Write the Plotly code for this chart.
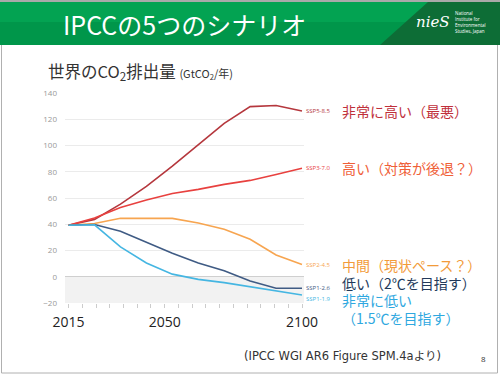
import plotly.graph_objects as go

# ---- data ----
years = ["2015", "2020", "2030", "2040", "2050", "2060", "2070", "2080", "2090", "2100"]
ssp585 = [39.2, 43.7, 55.3, 68.9, 84.2, 100.7, 116.8, 129.6, 130.5, 126.3]
ssp370 = [39.2, 44.8, 52.8, 58.5, 63.5, 66.6, 70.4, 73.4, 77.9, 82.7]
ssp245 = [39.2, 40.6, 44.5, 44.5, 44.5, 41.0, 36.2, 28.5, 16.6, 9.3]
ssp126 = [39.2, 39.8, 34.7, 26.5, 17.9, 10.5, 4.5, -3.3, -8.8, -8.8]
ssp119 = [39.2, 39.6, 22.8, 10.5, 2.0, -2.0, -4.5, -7.5, -11.0, -13.9]
series_names = ["SSP5-8.5", "SSP3-7.0", "SSP2-4.5", "SSP1-2.6", "SSP1-1.9"]
series_values = [ssp585, ssp370, ssp245, ssp126, ssp119]
descriptions = ["非常に高い（最悪）", "高い（対策が後退？）", "中間（現状ペース？）",
                "低い（2℃を目指す）", "非常に低い<br>（1.5℃を目指す）"]
year_tick_labels = [2015, 2050, 2100]
y_ticks = [-20, 0, 20, 40, 60, 80, 100, 120, 140]

# ---- styling ----
line_colors = ["#b5373d", "#e8413f", "#f7a550", "#3f5b84", "#45b6e2"]
text_colors = ["#c0303b", "#ef6038", "#f29b3a", "#22395a", "#2fa8e0"]
small_yshift = [0, 0, 0, 0, -4]
desc_yshift = [0, 0, 0, 5, -14]
W, H = 500, 375
JP = "Noto Sans CJK JP"

def px(x):
    return x / W

def py(y):
    return 1 - y / H

fig = go.Figure()
for name, vals, col in zip(series_names, series_values, line_colors):
    fig.add_trace(go.Scatter(x=years, y=vals, mode="lines", name=name,
                             line=dict(color=col, width=1.6), showlegend=False,
                             xaxis="x", yaxis="y"))
# empty trace that activates the year axis (ticks 2015..2100)
fig.add_trace(go.Scatter(x=[year_tick_labels[0], year_tick_labels[-1]], y=[None, None],
                         mode="lines", xaxis="x2", yaxis="y", showlegend=False,
                         hoverinfo="skip"))

last_idx = len(years) - 1
annotations = []
for name, vals, col, ys in zip(series_names, series_values, line_colors, small_yshift):
    annotations.append(dict(xref="x", yref="y", x=last_idx, y=vals[-1], text=name,
                            showarrow=False, xanchor="left", yanchor="middle",
                            xshift=3, yshift=ys, borderpad=0,
                            font=dict(family="Open Sans", size=6, color=col)))
for vals, desc, col, ys in zip(series_values, descriptions, text_colors, desc_yshift):
    annotations.append(dict(xref="paper", yref="y", x=px(341), y=vals[-1], text=desc,
                            showarrow=False, xanchor="left", yanchor="middle",
                            yshift=ys, align="left", borderpad=0,
                            font=dict(family=JP, size=14, color=col)))

# header title
annotations.append(dict(xref="paper", yref="paper", x=px(61), y=py(24),
                        text="IPCCの5つのシナリオ", showarrow=False,
                        xanchor="left", yanchor="middle",
                        font=dict(family=JP, size=25, color="white")))
# logo
annotations.append(dict(xref="paper", yref="paper", x=px(433), y=py(22),
                        text="<i>nieS</i>", showarrow=False,
                        xanchor="center", yanchor="middle",
                        font=dict(family="DejaVu Serif", size=15, color="white")))
annotations.append(dict(xref="paper", yref="paper", x=px(453), y=py(22),
                        text="National<br>Institute for<br>Environmental<br>Studies, Japan",
                        showarrow=False, xanchor="left", yanchor="middle", align="left",
                        font=dict(family="Open Sans", size=4.5, color="white")))
# chart title
annotations.append(dict(xref="paper", yref="paper", x=px(46), y=py(71),
                        text="世界のCO<sub>2</sub>排出量 <span style='font-size:11px'>(GtCO<sub>2</sub>/年)</span>",
                        showarrow=False, xanchor="left", yanchor="middle",
                        font=dict(family=JP, size=16.5, color="#333333")))
# footer
annotations.append(dict(xref="paper", yref="paper", x=px(242), y=py(356),
                        text="(IPCC WGI AR6 Figure SPM.4aより)", showarrow=False,
                        xanchor="left", yanchor="middle",
                        font=dict(family="DejaVu Sans, Noto Sans CJK JP", size=11.5,
                                  color="#333333")))
annotations.append(dict(xref="paper", yref="paper", x=px(483), y=py(358),
                        text="8", showarrow=False, xanchor="center", yanchor="middle",
                        font=dict(family="Open Sans", size=8, color="#333333")))

shapes = [
    # negative emissions band
    dict(type="rect", xref="x domain", yref="y", x0=0, x1=1, y0=y_ticks[0], y1=0,
         fillcolor="#f2f2f2", line=dict(width=0), layer="below"),
    # slide frame
    dict(type="rect", xref="paper", yref="paper", x0=px(1.5), x1=px(497.5),
         y0=py(373), y1=py(2), line=dict(color="#b0b0b0", width=1), fillcolor="rgba(0,0,0,0)"),
    # header top gray line
    dict(type="rect", xref="paper", yref="paper", x0=0, x1=1, y0=py(2), y1=1,
         fillcolor="#a9a9a9", line=dict(width=0)),
    # header green
    dict(type="rect", xref="paper", yref="paper", x0=0, x1=1, y0=py(45), y1=py(2),
         fillcolor="#00964a", line=dict(width=0)),
    dict(type="rect", xref="paper", yref="paper", x0=0, x1=1, y0=py(22), y1=py(2),
         fillcolor="#03a352", line=dict(width=0)),
    # dark green diagonal section
    dict(type="path", xref="paper", yref="paper",
         path=f"M {px(380)},{py(45)} L {px(428)},{py(2)} L 1,{py(2)} L 1,{py(45)} Z",
         fillcolor="#0d6d36", line=dict(width=0)),
]

dom_x = [px(65), px(304)]
dom_y = [py(303), py(93)]

fig.update_layout(
    width=W, height=H, margin=dict(l=0, r=0, t=0, b=0, autoexpand=False),
    paper_bgcolor="white", plot_bgcolor="white",
    xaxis=dict(type="category", categoryorder="array", categoryarray=years,
               domain=dom_x, range=[-0.139, 9.077], showgrid=False, automargin=False,
               showticklabels=False, ticks="", zeroline=False, showline=False),
    xaxis2=dict(overlaying="x", anchor="y", side="bottom", type="linear",
                range=[2013.69, 2100.73], tickvals=year_tick_labels, automargin=False,
                ticks="outside", ticklen=4, tickcolor="#cccccc", tickwidth=1,
                minor=dict(dtick=5, tick0=2015, ticks="outside", ticklen=4,
                           tickcolor="#cccccc", tickwidth=1),
                showgrid=False, zeroline=False, showline=False,
                ticklabelstandoff=2,
                tickfont=dict(family="Open Sans", size=14, color="#222222")),
    yaxis=dict(domain=dom_y, range=[y_ticks[0], y_ticks[-1]], tickvals=y_ticks,
               gridcolor="#ebebeb", gridwidth=1, zeroline=True, automargin=False,
               zerolinecolor="#cfcfcf", zerolinewidth=1, showline=False,
               ticks="", ticklabelstandoff=7,
               tickfont=dict(family="Open Sans", size=8, color="#999999")),
    annotations=annotations, shapes=shapes,
)

fig.write_html("out.html", config={"displayModeBar": False},
               post_script="document.body.style.margin='0px';")
